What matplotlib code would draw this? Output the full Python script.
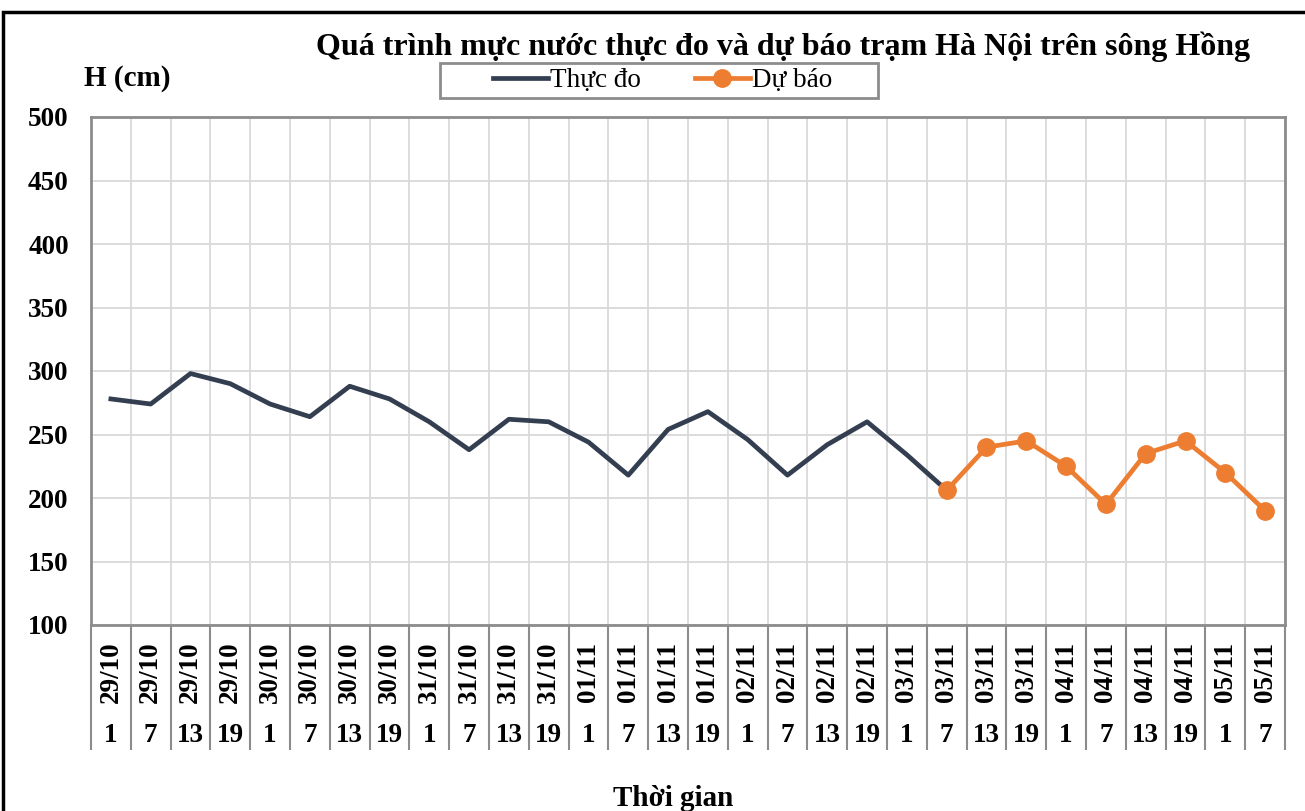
import matplotlib
matplotlib.use("Agg")
import matplotlib.pyplot as plt
import matplotlib.transforms as mtransforms
from matplotlib.patches import Rectangle

plt.rcParams['font.family'] = ['Liberation Serif', 'DejaVu Serif']

# category labels (date / hour)
dates = ['29/10'] * 4 + ['30/10'] * 4 + ['31/10'] * 4 + ['01/11'] * 4 + \
        ['02/11'] * 4 + ['03/11'] * 4 + ['04/11'] * 4 + ['05/11'] * 2
hours = ['1', '7', '13', '19'] * 7 + ['1', '7']

# observed water level (cm), up to 03/11 7h
observed = [278, 274, 298, 290, 274, 264, 288, 278, 260, 238, 262, 260,
            244, 218, 254, 268, 246, 218, 242, 260, 234, 206]
# forecast water level (cm), from 03/11 7h
forecast = [206, 240, 245, 225, 195, 235, 245, 220, 190]

obs_color = '#333F50'
fc_color = '#ED7D31'
frame_color = '#8C8C8C'
grid_color = '#D9D9D9'

fig = plt.figure(figsize=(13.05, 8.11), dpi=100)
ax = fig.add_axes([91 / 1305, 1 - 625 / 811, 1194 / 1305, 508 / 811])

n = len(dates)
x_obs = list(range(len(observed)))
x_fc = list(range(len(observed) - 1, len(observed) - 1 + len(forecast)))

ax.plot(x_obs, observed, color=obs_color, lw=3.4, label='Thực đo', zorder=3)
ax.plot(x_fc, forecast, color=fc_color, lw=3.4, marker='o', markersize=12.5,
        label='Dự báo', zorder=4)

ax.set_xlim(-0.5, n - 0.5)
ax.set_ylim(100, 500)
ax.set_yticks(range(100, 501, 50))

# category boundaries -> gridlines and long separator ticks
ax.set_xticks([k - 0.5 for k in range(n + 1)])
ax.set_xticklabels([])
ax.tick_params(axis='x', length=90, width=1.5, color=frame_color, direction='out')
ax.tick_params(axis='y', length=0, pad=16, labelsize=19.5)
for lbl in ax.get_yticklabels():
    lbl.set_fontweight('bold')
ax.grid(True, color=grid_color, lw=1.3)
ax.set_axisbelow(True)
for s in ax.spines.values():
    s.set_color(frame_color)
    s.set_linewidth(2)

trans = mtransforms.blended_transform_factory(ax.transData, fig.transFigure)
for i in range(n):
    ax.text(i, 1 - 672 / 811, dates[i], transform=trans, rotation=90,
            ha='center', va='center', fontsize=19.5, fontweight='bold')
    ax.text(i, 1 - 735 / 811, hours[i], transform=trans,
            ha='center', va='center', fontsize=19.5, fontweight='bold')

fig.text(783 / 1305, 1 - 47 / 811,
         'Quá trình mực nước thực đo và dự báo trạm Hà Nội trên sông Hồng',
         ha='center', va='center', fontsize=23, fontweight='bold')
fig.text(127 / 1305, 1 - 78 / 811, 'H (cm)', ha='center', va='center',
         fontsize=21, fontweight='bold')
fig.text(673 / 1305, 1 - 798 / 811, 'Thời gian', ha='center', va='center',
         fontsize=21, fontweight='bold')

leg = fig.legend(loc='center', bbox_to_anchor=(663 / 1305, 1 - 80.5 / 811),
                 ncol=2, fontsize=19.5, frameon=False, handlelength=2.0,
                 handletextpad=0.1, columnspacing=2.0, borderpad=0.15,
                 borderaxespad=0)

# legend box (wider than the entries, as in the source chart)
fig.patches.append(Rectangle((440 / 1305, 1 - 98 / 811), 438 / 1305, 35 / 811,
                             transform=fig.transFigure, fill=False,
                             edgecolor=frame_color, lw=2))

# outer chart border
fig.patches.append(Rectangle((3 / 1305, -0.05), 1.1, 1 - 12 / 811 + 0.05,
                             transform=fig.transFigure, fill=False,
                             edgecolor='black', lw=2.5))

fig.savefig('out.png', dpi=100)
